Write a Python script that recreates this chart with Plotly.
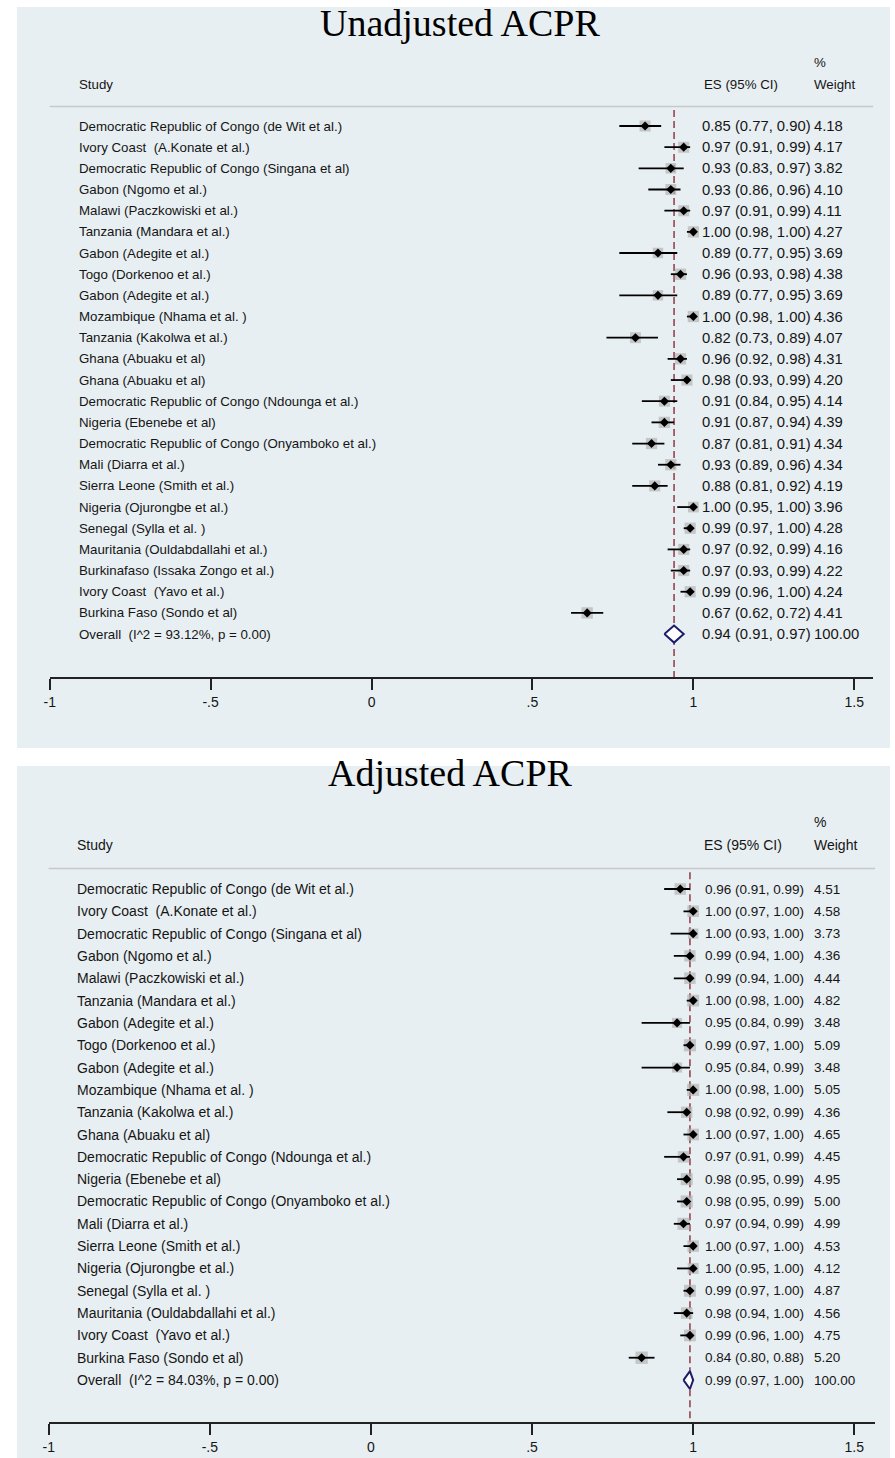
import plotly.graph_objects as go

# ---------------- data ----------------
studies_unadj = [
    "Democratic Republic of Congo (de Wit et al.)",
    "Ivory Coast  (A.Konate et al.)",
    "Democratic Republic of Congo (Singana et al)",
    "Gabon (Ngomo et al.)",
    "Malawi (Paczkowiski et al.)",
    "Tanzania (Mandara et al.)",
    "Gabon (Adegite et al.)",
    "Togo (Dorkenoo et al.)",
    "Gabon (Adegite et al.)",
    "Mozambique (Nhama et al. )",
    "Tanzania (Kakolwa et al.)",
    "Ghana (Abuaku et al)",
    "Ghana (Abuaku et al)",
    "Democratic Republic of Congo (Ndounga et al.)",
    "Nigeria (Ebenebe et al)",
    "Democratic Republic of Congo (Onyamboko et al.)",
    "Mali (Diarra et al.)",
    "Sierra Leone (Smith et al.)",
    "Nigeria (Ojurongbe et al.)",
    "Senegal (Sylla et al. )",
    "Mauritania (Ouldabdallahi et al.)",
    "Burkinafaso (Issaka Zongo et al.)",
    "Ivory Coast  (Yavo et al.)",
    "Burkina Faso (Sondo et al)",
]
es_unadj = [0.85, 0.97, 0.93, 0.93, 0.97, 1.00, 0.89, 0.96, 0.89, 1.00, 0.82, 0.96,
            0.98, 0.91, 0.91, 0.87, 0.93, 0.88, 1.00, 0.99, 0.97, 0.97, 0.99, 0.67]
lo_unadj = [0.77, 0.91, 0.83, 0.86, 0.91, 0.98, 0.77, 0.93, 0.77, 0.98, 0.73, 0.92,
            0.93, 0.84, 0.87, 0.81, 0.89, 0.81, 0.95, 0.97, 0.92, 0.93, 0.96, 0.62]
hi_unadj = [0.90, 0.99, 0.97, 0.96, 0.99, 1.00, 0.95, 0.98, 0.95, 1.00, 0.89, 0.98,
            0.99, 0.95, 0.94, 0.91, 0.96, 0.92, 1.00, 1.00, 0.99, 0.99, 1.00, 0.72]
wt_unadj = [4.18, 4.17, 3.82, 4.10, 4.11, 4.27, 3.69, 4.38, 3.69, 4.36, 4.07, 4.31,
            4.20, 4.14, 4.39, 4.34, 4.34, 4.19, 3.96, 4.28, 4.16, 4.22, 4.24, 4.41]
overall_unadj = {"label": "Overall  (I^2 = 93.12%, p = 0.00)", "es": 0.94, "lo": 0.91, "hi": 0.97, "wt": 100.00}

studies_adj = [
    "Democratic Republic of Congo (de Wit et al.)",
    "Ivory Coast  (A.Konate et al.)",
    "Democratic Republic of Congo (Singana et al)",
    "Gabon (Ngomo et al.)",
    "Malawi (Paczkowiski et al.)",
    "Tanzania (Mandara et al.)",
    "Gabon (Adegite et al.)",
    "Togo (Dorkenoo et al.)",
    "Gabon (Adegite et al.)",
    "Mozambique (Nhama et al. )",
    "Tanzania (Kakolwa et al.)",
    "Ghana (Abuaku et al)",
    "Democratic Republic of Congo (Ndounga et al.)",
    "Nigeria (Ebenebe et al)",
    "Democratic Republic of Congo (Onyamboko et al.)",
    "Mali (Diarra et al.)",
    "Sierra Leone (Smith et al.)",
    "Nigeria (Ojurongbe et al.)",
    "Senegal (Sylla et al. )",
    "Mauritania (Ouldabdallahi et al.)",
    "Ivory Coast  (Yavo et al.)",
    "Burkina Faso (Sondo et al)",
]
es_adj = [0.96, 1.00, 1.00, 0.99, 0.99, 1.00, 0.95, 0.99, 0.95, 1.00, 0.98,
          1.00, 0.97, 0.98, 0.98, 0.97, 1.00, 1.00, 0.99, 0.98, 0.99, 0.84]
lo_adj = [0.91, 0.97, 0.93, 0.94, 0.94, 0.98, 0.84, 0.97, 0.84, 0.98, 0.92,
          0.97, 0.91, 0.95, 0.95, 0.94, 0.97, 0.95, 0.97, 0.94, 0.96, 0.80]
hi_adj = [0.99, 1.00, 1.00, 1.00, 1.00, 1.00, 0.99, 1.00, 0.99, 1.00, 0.99,
          1.00, 0.99, 0.99, 0.99, 0.99, 1.00, 1.00, 1.00, 1.00, 1.00, 0.88]
wt_adj = [4.51, 4.58, 3.73, 4.36, 4.44, 4.82, 3.48, 5.09, 3.48, 5.05, 4.36,
          4.65, 4.45, 4.95, 5.00, 4.99, 4.53, 4.12, 4.87, 4.56, 4.75, 5.20]
overall_adj = {"label": "Overall  (I^2 = 84.03%, p = 0.00)", "es": 0.99, "lo": 0.97, "hi": 1.00, "wt": 100.00}

tick_vals = [-1, -0.5, 0, 0.5, 1, 1.5]
tick_text = ["-1", "-.5", "0", ".5", "1", "1.5"]

titles = ["Unadjusted ACPR", "Adjusted ACPR"]

# ---------------- layout constants ----------------
W, H = 895, 1458
SANS = "Liberation Sans, Arial, sans-serif"
SERIF = "Liberation Serif, Times New Roman, serif"
PANEL_BG = "#e8eff2"
DASH_COLOR = "#8e3a46"
DIAMOND_COLOR = "#1c1c6b"
BOX_COLOR = "#b4b4b4"
TEXT_COLOR = "#151515"

panels = [
    dict(bg=(11, 7, 890, 748), plot=(44, 40, 873, 677), row0=126, rowstep=21.17,
         title_x=457, title_y=23, es_x=700, wt_x=812, lab_x=72, name_size=13.3, es_size=14.8),
    dict(bg=(11, 766, 890, 1458), plot=(43, 800, 875, 1422), row0=889, rowstep=22.32,
         title_x=448, title_y=773, es_x=703, wt_x=812, lab_x=70, name_size=14, es_size=13.5),
]

datasets = [
    (studies_unadj, es_unadj, lo_unadj, hi_unadj, wt_unadj, overall_unadj),
    (studies_adj, es_adj, lo_adj, hi_adj, wt_adj, overall_adj),
]

def px2fx(px):
    return px / W

def py2fy(py):
    return 1 - py / H

fig = go.Figure()
shapes = []
annotations = []

for k, (panel, data) in enumerate(zip(panels, datasets)):
    names, es, lo, hi, wt, ov = data
    xa = "x" if k == 0 else "x2"
    ya = "y" if k == 0 else "y2"
    xl, yt, xr, yb = panel["plot"]
    n = len(names)
    rows = list(range(n))
    ov_row = n
    step = panel["rowstep"]
    unit = (854 - xl) / 2.5
    xmax = -1 + (xr - xl) / unit
    ytop = -(panel["row0"] - yt) / step
    ybot = (yb - panel["row0"]) / step

    bx0, by0, bx1, by1 = panel["bg"]
    shapes.append(dict(type="rect", xref="paper", yref="paper",
                       x0=px2fx(bx0), x1=px2fx(bx1), y0=py2fy(by1), y1=py2fy(by0),
                       fillcolor=PANEL_BG, line=dict(width=0), layer="below"))

    shapes.append(dict(type="line", xref=f"{xa} domain", yref=ya,
                       x0=0, x1=1, y0=-0.92, y1=-0.92,
                       line=dict(color="#c8c8c8", width=1.5)))

    fig.add_trace(go.Scatter(x=[ov["es"], ov["es"]], y=[-0.75, ybot], mode="lines",
                             line=dict(color=DASH_COLOR, width=1.5, dash="7px,4px"),
                             xaxis=xa, yaxis=ya, hoverinfo="skip", showlegend=False))

    fig.add_trace(go.Scatter(x=es, y=rows, mode="markers",
                             marker=dict(symbol="square", color=BOX_COLOR,
                                         size=[5.4 * (w ** 0.5) for w in wt],
                                         line=dict(width=0)),
                             xaxis=xa, yaxis=ya, hoverinfo="skip", showlegend=False))
    cx, cy = [], []
    for r, a, b in zip(rows, lo, hi):
        cx += [a, b, None]
        cy += [r, r, None]
    fig.add_trace(go.Scatter(x=cx, y=cy, mode="lines", line=dict(color="black", width=1.8),
                             xaxis=xa, yaxis=ya, hoverinfo="skip", showlegend=False))
    fig.add_trace(go.Scatter(x=es, y=rows, mode="markers",
                             marker=dict(symbol="diamond", color="black", size=7),
                             xaxis=xa, yaxis=ya, hoverinfo="skip", showlegend=False))
    dh = 0.4
    fig.add_trace(go.Scatter(x=[ov["lo"], ov["es"], ov["hi"], ov["es"], ov["lo"]],
                             y=[ov_row, ov_row - dh, ov_row, ov_row + dh, ov_row],
                             mode="lines", fill="toself", fillcolor="white",
                             line=dict(color=DIAMOND_COLOR, width=2),
                             xaxis=xa, yaxis=ya, hoverinfo="skip", showlegend=False))

    axis_common = dict(showgrid=False, zeroline=False)
    fig.update_layout(**{
        ("xaxis" if k == 0 else "xaxis2"): dict(
            domain=[px2fx(xl), px2fx(xr)], range=[-1, xmax], anchor=ya,
            tickvals=tick_vals, ticktext=tick_text, ticks="outside", ticklen=11,
            tickwidth=1.5, tickcolor="#222", showline=True, linecolor="#222", linewidth=1.5,
            tickfont=dict(family=SANS, size=14, color=TEXT_COLOR), ticklabelstandoff=0,
            **axis_common),
        ("yaxis" if k == 0 else "yaxis2"): dict(
            domain=[py2fy(yb), py2fy(yt)], range=[ybot, ytop], anchor=xa,
            visible=False, **axis_common),
    })

    annotations.append(dict(text=titles[k], xref="paper", yref="paper",
                            x=px2fx(panel["title_x"]), y=py2fy(panel["title_y"]),
                            xanchor="center", yanchor="middle", showarrow=False,
                            font=dict(family=SERIF, size=38, color="#000")))

    name_font = dict(family=SANS, size=panel["name_size"], color=TEXT_COLOR)
    es_font = dict(family=SANS, size=panel["es_size"], color=TEXT_COLOR)
    for txt, xpx, row in [("Study", panel["lab_x"], -1.98),
                          ("ES (95% CI)", 702, -1.98),
                          ("%", 812, -2.98), ("Weight", 812, -1.98)]:
        annotations.append(dict(text=txt, xref="paper", yref=ya, x=px2fx(xpx), y=row,
                                xanchor="left", yanchor="middle", showarrow=False,
                                font=name_font, borderpad=0))

    all_names = names + [ov["label"]]
    all_es = es + [ov["es"]]
    all_lo = lo + [ov["lo"]]
    all_hi = hi + [ov["hi"]]
    all_wt = wt + [ov["wt"]]
    for r, (nm, e, a, b, w) in enumerate(zip(all_names, all_es, all_lo, all_hi, all_wt)):
        annotations.append(dict(text=nm, xref="paper", yref=ya, x=px2fx(panel["lab_x"]), y=r,
                                xanchor="left", yanchor="middle", showarrow=False,
                                font=name_font, borderpad=0))
        annotations.append(dict(text=f"{e:.2f} ({a:.2f}, {b:.2f})", xref="paper", yref=ya,
                                x=px2fx(panel["es_x"]), y=r, xanchor="left", yanchor="middle",
                                showarrow=False, font=es_font, borderpad=0))
        annotations.append(dict(text=f"{w:.2f}", xref="paper", yref=ya,
                                x=px2fx(panel["wt_x"]), y=r, xanchor="left", yanchor="middle",
                                showarrow=False, font=es_font, borderpad=0))

fig.update_layout(width=W, height=H, margin=dict(l=0, r=0, t=0, b=0),
                  paper_bgcolor="white", plot_bgcolor="white",
                  shapes=shapes, annotations=annotations, showlegend=False)

fig.write_html("out.html", config={"displayModeBar": False},
               post_script="document.body.style.margin='0';document.body.style.overflow='hidden';")
